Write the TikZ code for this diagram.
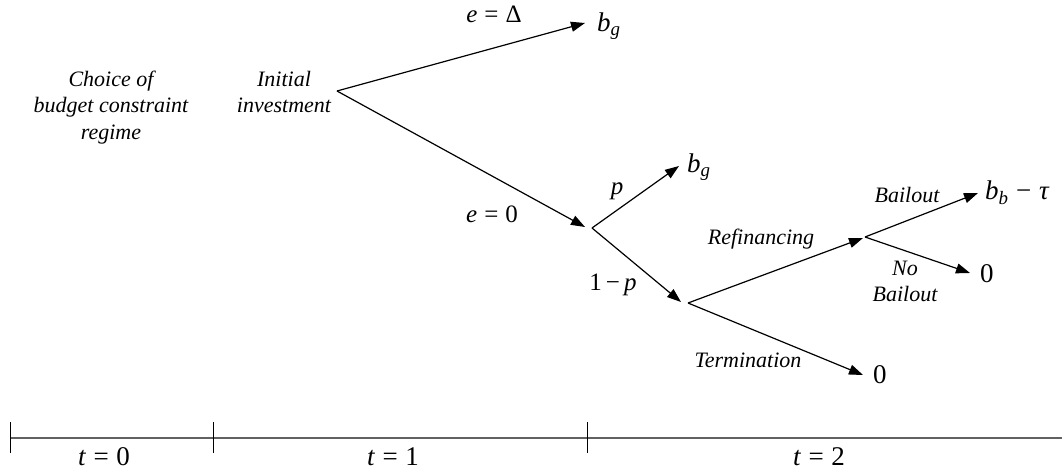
\documentclass[tikz,border=0pt]{standalone}
\usepackage{fontspec}
\setmainfont{Liberation Serif}
\usetikzlibrary{arrows.meta}
\tikzset{
  lbl/.style={font=\fontsize{22}{27}\selectfont\itshape, inner sep=0pt, align=center},
  mth/.style={font=\fontsize{25}{30}\selectfont, inner sep=0pt},
  res/.style={font=\fontsize{27}{32}\selectfont, inner sep=0pt},
  branch/.style={line width=1.2pt, -{Triangle[length=14pt,width=10pt]}},
  axisline/.style={draw=black!62, line width=2pt},
  tick/.style={line width=1pt},
}
\newcommand{\gapsp}{\hspace{0.28em}}
\begin{document}
\begin{tikzpicture}[x=1pt,y=-1pt]
\useasboundingbox (0,0) rectangle (1062,470);
% decision points
\coordinate (n0) at (337,91);
\coordinate (n1) at (592,228);
\coordinate (n2) at (688,303);
\coordinate (n3) at (865,237);
% arrow tips
\coordinate (tA) at (585,23);
\coordinate (tB) at (585,227);
\coordinate (tC) at (679,166);
\coordinate (tD) at (681,302);
\coordinate (tN3) at (863,238);
\coordinate (tE) at (978,193);
\coordinate (tF) at (970,273);
\coordinate (tG) at (863,375);

\draw[branch] (n0) -- (tA);
\draw[branch] (n0) -- (tB);
\draw[branch] (n1) -- (tC);
\draw[branch] (n1) -- (tD);
\draw[branch] (n2) -- (tN3);
\draw[branch] (n3) -- (tE);
\draw[branch] (n3) -- (tF);
\draw[branch] (n2) -- (tG);

% texts
\node[lbl, anchor=base] (choice1) at (111,87) {Choice of};
\node[lbl, anchor=base] (choice2) at (111,113) {budget constraint};
\node[lbl, anchor=base] (choice3) at (111,140) {regime};
\node[lbl, anchor=base] (init1) at (284,87) {Initial};
\node[lbl, anchor=base] (init2) at (284,113) {investment};

\node[mth, anchor=base] (eD) at (494,23) {\textit{e}\gapsp=\gapsp Δ};
\node[res, anchor=base west] (bg1) at (597,32) {\textit{b}\textsubscript{\textit{g}}};
\node[mth, anchor=base] (e0) at (492,223) {\textit{e}\gapsp=\gapsp 0};
\node[mth, anchor=base] (pl) at (617,195) {\textit{p}};
\node[res, anchor=base west] (bg2) at (687,173) {\textit{b}\textsubscript{\textit{g}}};
\node[mth, anchor=base] (qp) at (613,290) {1\,−\,\textit{p}};
\node[lbl, anchor=base] (refi) at (761,245) {Refinancing};
\node[lbl, anchor=base] (term) at (748,367) {Termination};
\node[res, anchor=base west] (z1) at (873,383) {0};
\node[lbl, anchor=base] (bail) at (907,203) {Bailout};
\node[res, anchor=base west] (bb) at (985,200) {\textit{b}\textsubscript{\textit{b}}\gapsp−\gapsp\textit{τ}};
\node[lbl, anchor=base] (nb1) at (905,275) {No};
\node[lbl, anchor=base] (nb2) at (905,301) {Bailout};
\node[res, anchor=base west] (z2) at (980,282) {0};

% timeline
\coordinate (L0) at (10,438);
\coordinate (L1) at (1062,438);
\draw[axisline] (L0) -- (L1);
\coordinate (k0a) at (10,422); \coordinate (k0b) at (10,453);
\coordinate (k1a) at (213,422); \coordinate (k1b) at (213,453);
\coordinate (k2a) at (587,422); \coordinate (k2b) at (587,453);
\draw[tick] (k0a) -- (k0b);
\draw[tick] (k1a) -- (k1b);
\draw[tick] (k2a) -- (k2b);
\node[res, anchor=base] (t0) at (104,465) {\textit{t}\gapsp=\gapsp0};
\node[res, anchor=base] (t1) at (393,465) {\textit{t}\gapsp=\gapsp1};
\node[res, anchor=base] (t2) at (819,465) {\textit{t}\gapsp=\gapsp2};
\end{tikzpicture}
\end{document}
